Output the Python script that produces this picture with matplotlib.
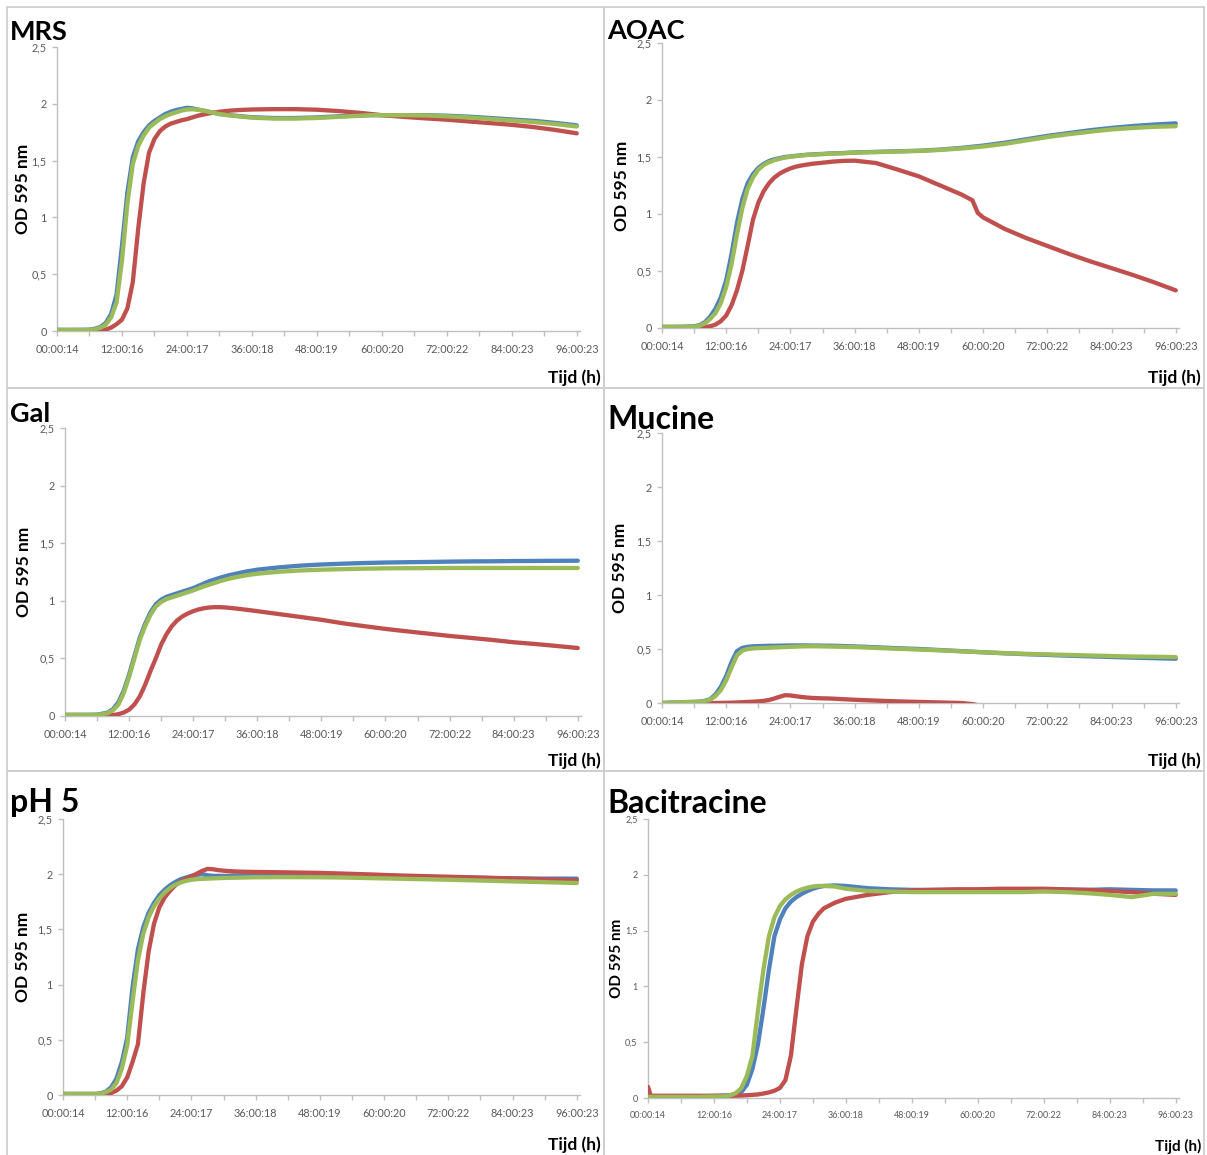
import matplotlib
matplotlib.use("Agg")
import matplotlib.pyplot as plt
from matplotlib.patches import Rectangle
from matplotlib.ticker import FixedLocator, FuncFormatter

plt.rcParams['font.family'] = ['Lato', 'DejaVu Sans']

# sampling times (h) shared by all growth curves
HOURS = [0, 0.5, 2, 4, 6,
         7, 8, 9, 10, 11, 12, 13, 14, 15, 16,
         17, 18, 19, 20, 21, 22, 23, 24, 25, 26,
         27, 28, 29, 30, 31, 32, 34, 36, 40, 44,
         48, 52, 56, 58, 59, 60, 64, 68, 72, 76,
         80, 84, 88, 92, 96]

TICK_HOURS = [0, 12, 24, 36, 48, 60, 72, 84, 96]
TICK_LABELS = ["00:00:14", "12:00:16", "24:00:17", "36:00:18", "48:00:19",
               "60:00:20", "72:00:22", "84:00:23", "96:00:23"]
Y_TICKS = [0, 0.5, 1, 1.5, 2, 2.5]

# OD 595 nm per medium, three strains (blue / red / green)
MRS_BLUE = [0.01, 0.01, 0.01, 0.01, 0.012,
            0.02, 0.035, 0.07, 0.15, 0.32, 0.75, 1.22, 1.53, 1.67, 1.75,
            1.81, 1.85, 1.88, 1.91, 1.93, 1.945, 1.955, 1.965, 1.96, 1.95,
            1.94, 1.93, 1.92, 1.91, 1.905, 1.9, 1.89, 1.882, 1.875, 1.875,
            1.88, 1.89, 1.897, 1.9, 1.9, 1.9, 1.9, 1.9, 1.895, 1.887,
            1.875, 1.862, 1.85, 1.832, 1.81]
MRS_RED = [0, 0, 0, 0, 0.002,
           0.004, 0.007, 0.012, 0.03, 0.06, 0.1, 0.2, 0.43, 0.9, 1.3,
           1.57, 1.69, 1.76, 1.8, 1.825, 1.84, 1.855, 1.865, 1.88, 1.895,
           1.905, 1.915, 1.922, 1.93, 1.935, 1.94, 1.946, 1.95, 1.953, 1.953,
           1.948, 1.936, 1.92, 1.91, 1.905, 1.9, 1.885, 1.872, 1.86, 1.845,
           1.83, 1.815, 1.795, 1.77, 1.74]
MRS_GREEN = [0.01, 0.01, 0.01, 0.01, 0.01,
             0.015, 0.028, 0.055, 0.12, 0.25, 0.62, 1.12, 1.47, 1.63, 1.72,
             1.79, 1.83, 1.865, 1.89, 1.91, 1.925, 1.94, 1.95, 1.952, 1.948,
             1.94, 1.93, 1.92, 1.91, 1.903, 1.897, 1.887, 1.878, 1.87, 1.87,
             1.875, 1.885, 1.895, 1.9, 1.9, 1.9, 1.9, 1.898, 1.89, 1.88,
             1.867, 1.853, 1.84, 1.822, 1.8]

AOAC_BLUE = [0.01, 0.01, 0.01, 0.012, 0.015,
             0.025, 0.05, 0.1, 0.17, 0.27, 0.42, 0.65, 0.92, 1.13, 1.27,
             1.35, 1.405, 1.44, 1.465, 1.48, 1.49, 1.5, 1.505, 1.51, 1.515,
             1.52, 1.522, 1.525, 1.527, 1.53, 1.532, 1.535, 1.54, 1.545, 1.55,
             1.555, 1.565, 1.58, 1.59, 1.595, 1.6, 1.625, 1.655, 1.685, 1.71,
             1.735, 1.755, 1.772, 1.785, 1.795]
AOAC_RED = [0, 0, 0, 0, 0,
            0.003, 0.008, 0.015, 0.03, 0.06, 0.11, 0.2, 0.33, 0.5, 0.72,
            0.95, 1.1, 1.2, 1.27, 1.32, 1.355, 1.38, 1.4, 1.415, 1.425,
            1.433, 1.44, 1.445, 1.45, 1.455, 1.46, 1.466, 1.468, 1.447, 1.39,
            1.33, 1.25, 1.17, 1.12, 1.01, 0.97, 0.87, 0.79, 0.72, 0.65,
            0.585, 0.525, 0.465, 0.4, 0.33]
AOAC_GREEN = [0.01, 0.01, 0.01, 0.01, 0.012,
              0.02, 0.04, 0.08, 0.13, 0.22, 0.36, 0.56, 0.82, 1.05, 1.22,
              1.32, 1.39, 1.43, 1.455, 1.472, 1.485, 1.495, 1.502, 1.508, 1.513,
              1.517, 1.52, 1.523, 1.525, 1.528, 1.53, 1.533, 1.538, 1.543, 1.548,
              1.553, 1.562, 1.575, 1.583, 1.588, 1.592, 1.615, 1.645, 1.675, 1.7,
              1.722, 1.742, 1.755, 1.765, 1.77]

GAL_BLUE = [0.01, 0.01, 0.01, 0.01, 0.012,
            0.02, 0.03, 0.06, 0.12, 0.22, 0.36, 0.52, 0.68, 0.8, 0.9,
            0.97, 1.01, 1.035, 1.05, 1.065, 1.08, 1.095, 1.11, 1.13, 1.15,
            1.17, 1.185, 1.2, 1.213, 1.225, 1.235, 1.255, 1.27, 1.29, 1.305,
            1.315, 1.322, 1.328, 1.33, 1.331, 1.332, 1.335, 1.337, 1.34, 1.342,
            1.343, 1.345, 1.346, 1.347, 1.348]
GAL_RED = [0, 0, 0, 0, 0,
           0.002, 0.004, 0.008, 0.016, 0.03, 0.055, 0.1, 0.17, 0.27, 0.39,
           0.5, 0.62, 0.71, 0.78, 0.83, 0.865, 0.89, 0.91, 0.925, 0.935,
           0.942, 0.945, 0.945, 0.942, 0.938, 0.933, 0.922, 0.91, 0.885, 0.86,
           0.835, 0.805, 0.78, 0.768, 0.762, 0.756, 0.735, 0.715, 0.695, 0.678,
           0.66, 0.64, 0.625, 0.608, 0.59]
GAL_GREEN = [0.01, 0.01, 0.01, 0.01, 0.01,
             0.015, 0.025, 0.05, 0.1, 0.2, 0.34, 0.5, 0.66, 0.78, 0.88,
             0.95, 0.99, 1.015, 1.03, 1.045, 1.06, 1.075, 1.09, 1.108, 1.125,
             1.14, 1.155, 1.17, 1.183, 1.195, 1.205, 1.222, 1.235, 1.252, 1.263,
             1.27, 1.275, 1.279, 1.28, 1.281, 1.282, 1.283, 1.284, 1.285, 1.285,
             1.285, 1.285, 1.285, 1.285, 1.285]

MUC_BLUE = [0, 0, 0.004, 0.008, 0.01,
            0.013, 0.02, 0.035, 0.08, 0.15, 0.25, 0.38, 0.48, 0.51, 0.52,
            0.525, 0.527, 0.528, 0.53, 0.53, 0.531, 0.532, 0.533, 0.533, 0.533,
            0.533, 0.532, 0.532, 0.531, 0.53, 0.53, 0.527, 0.524, 0.516, 0.507,
            0.5, 0.49, 0.48, 0.475, 0.472, 0.47, 0.46, 0.452, 0.445, 0.438,
            0.432, 0.426, 0.42, 0.415, 0.41]
# the red strain drops just below the blank after ~58 h
MUC_RED = [0, 0, 0, 0, 0,
           0, 0, 0, 0, 0.001, 0.002, 0.003, 0.005, 0.007, 0.01,
           0.012, 0.015, 0.02, 0.028, 0.042, 0.058, 0.072, 0.07, 0.063, 0.056,
           0.051, 0.047, 0.045, 0.043, 0.042, 0.04, 0.035, 0.03, 0.022, 0.015,
           0.01, 0.005, 0.0, -0.01, -0.02, -0.02, -0.02, -0.02, -0.02, -0.02,
           -0.02, -0.02, -0.02, -0.02, -0.02]
MUC_GREEN = [0, 0, 0.004, 0.008, 0.01,
             0.012, 0.018, 0.03, 0.065, 0.12, 0.21, 0.33, 0.44, 0.485, 0.5,
             0.505, 0.508, 0.51, 0.512, 0.514, 0.516, 0.518, 0.52, 0.522, 0.524,
             0.525, 0.525, 0.525, 0.524, 0.523, 0.522, 0.52, 0.518, 0.51, 0.502,
             0.495, 0.487, 0.478, 0.474, 0.472, 0.47, 0.462, 0.455, 0.45, 0.445,
             0.44, 0.435, 0.43, 0.428, 0.425]

PH5_BLUE = [0.01, 0.01, 0.01, 0.01, 0.01,
            0.015, 0.03, 0.07, 0.15, 0.3, 0.52, 0.98, 1.32, 1.52, 1.65,
            1.74, 1.81, 1.86, 1.9, 1.93, 1.955, 1.97, 1.985, 1.995, 2.0,
            1.99, 1.985, 1.985, 1.985, 1.985, 1.988, 1.99, 1.99, 1.99, 1.99,
            1.99, 1.985, 1.982, 1.98, 1.98, 1.98, 1.977, 1.975, 1.972, 1.968,
            1.965, 1.962, 1.96, 1.96, 1.96]
PH5_RED = [0, 0, 0, 0, 0,
           0.004, 0.008, 0.018, 0.04, 0.08, 0.16, 0.3, 0.46, 0.92, 1.3,
           1.55, 1.7, 1.79, 1.85, 1.9, 1.935, 1.96, 1.98, 2.005, 2.03,
           2.048, 2.045, 2.037, 2.032, 2.028, 2.025, 2.022, 2.02, 2.018, 2.015,
           2.012, 2.006, 2.0, 1.997, 1.995, 1.993, 1.987, 1.982, 1.977, 1.972,
           1.967, 1.962, 1.957, 1.951, 1.945]
PH5_GREEN = [0.01, 0.01, 0.01, 0.01, 0.01,
             0.012, 0.025, 0.05, 0.11, 0.24, 0.45, 0.85, 1.22, 1.46, 1.61,
             1.71, 1.78, 1.835, 1.875, 1.905, 1.925, 1.94, 1.95, 1.955, 1.958,
             1.96, 1.962, 1.964, 1.966, 1.967, 1.968, 1.97, 1.972, 1.973, 1.973,
             1.972, 1.97, 1.966, 1.964, 1.963, 1.962, 1.958, 1.954, 1.95, 1.945,
             1.94, 1.935, 1.93, 1.925, 1.92]

BAC_BLUE = [0.012, 0.012, 0.012, 0.012, 0.013,
            0.013, 0.014, 0.015, 0.016, 0.017, 0.018, 0.02, 0.022, 0.025, 0.032,
            0.055, 0.12, 0.26, 0.48, 0.8, 1.15, 1.45, 1.6, 1.7, 1.76,
            1.8, 1.83, 1.855, 1.875, 1.89, 1.9, 1.905, 1.9, 1.88, 1.87,
            1.865, 1.865, 1.865, 1.865, 1.865, 1.865, 1.865, 1.865, 1.865, 1.865,
            1.865, 1.87, 1.865, 1.86, 1.86]
BAC_RED = [0.1, 0.02, 0.02, 0.02, 0.02,
           0.02, 0.02, 0.02, 0.02, 0.02, 0.02, 0.02, 0.02, 0.02, 0.021,
           0.022, 0.025, 0.028, 0.032, 0.04, 0.05, 0.065, 0.09, 0.16, 0.38,
           0.8, 1.2, 1.45, 1.58, 1.65, 1.7, 1.75, 1.785, 1.82, 1.845,
           1.86, 1.865, 1.87, 1.87, 1.87, 1.87, 1.875, 1.875, 1.875, 1.87,
           1.865, 1.855, 1.845, 1.83, 1.82]
BAC_GREEN = [0.01, 0.01, 0.01, 0.01, 0.01,
             0.01, 0.01, 0.01, 0.011, 0.012, 0.013, 0.014, 0.015, 0.025, 0.045,
             0.09, 0.2, 0.38, 0.78, 1.15, 1.45, 1.62, 1.72, 1.78, 1.82,
             1.85, 1.87, 1.885, 1.895, 1.9, 1.9, 1.895, 1.875, 1.855, 1.85,
             1.845, 1.845, 1.845, 1.845, 1.845, 1.845, 1.845, 1.845, 1.85, 1.845,
             1.835, 1.82, 1.8, 1.83, 1.83]

BLUE, RED, GREEN = '#4f81bd', '#c0504d', '#9bbb59'
GRID_GREY = '#bfbfbf'
LABEL_GREY = '#595959'

W, H = 1207, 1155
fig = plt.figure(figsize=(W / 100, H / 100), dpi=100)


def fx(x):
    return x / W


def fy(y):
    return 1 - y / H


def panel(name, series, box, ax_px, title_pt, title_base, ylab_x,
          tijd_base, small=False):
    # frame around the slide panel
    x0, y0, x1, y1 = box
    fig.add_artist(Rectangle((fx(x0), fy(y1)), (x1 - x0) / W, (y1 - y0) / H,
                             transform=fig.transFigure, fill=False,
                             ec='#cfcfcf', lw=1.3))

    left, right, top, bottom = ax_px
    ax = fig.add_axes([fx(left), fy(bottom), (right - left) / W, (bottom - top) / H])
    for vals, col in series:
        ax.plot(HOURS, vals, color=col, lw=3.1, solid_capstyle='round')

    ax.set_xlim(0, 96.6)
    ax.set_ylim(0, 2.5)
    for side in ('top', 'right'):
        ax.spines[side].set_visible(False)
    for side in ('left', 'bottom'):
        ax.spines[side].set_color(GRID_GREY)
        ax.spines[side].set_linewidth(1.0)
        ax.spines[side].set_zorder(0.5)
    ax.set_facecolor('none')

    tick_size = 6.5 if small else 7.8
    ax.xaxis.set_major_locator(FixedLocator(TICK_HOURS))
    ax.xaxis.set_minor_locator(FixedLocator([h + 6 for h in TICK_HOURS[:-1]]))
    ax.set_xticklabels(TICK_LABELS)
    ax.yaxis.set_major_locator(FixedLocator(Y_TICKS))
    ax.yaxis.set_major_formatter(
        FuncFormatter(lambda v, p: f"{v:g}".replace('.', ',')))
    ax.tick_params(which='both', color=GRID_GREY, length=3.5, width=1,
                   labelcolor=LABEL_GREY, labelsize=tick_size)
    ax.tick_params(axis='x', which='both', pad=6)
    ax.tick_params(axis='y', pad=4)

    fig.text(fx(x0 + 3), fy(title_base), name, fontsize=title_pt,
             fontweight='bold', ha='left', va='baseline')
    fig.text(fx(ylab_x), fy((top + bottom) / 2), 'OD 595 nm',
             fontsize=11 if small else 12.5, fontweight='bold',
             rotation=90, ha='center', va='center')
    fig.text(fx(x1 - 3), fy(tijd_base), 'Tijd (h)',
             fontsize=11 if small else 12.5, fontweight='bold',
             ha='right', va='baseline')
    return ax


panel('MRS', [(MRS_BLUE, BLUE), (MRS_RED, RED), (MRS_GREEN, GREEN)],
      (7, 7, 604, 388), (57, 580, 47, 331), 19.5, 40, 23, 383)
panel('AOAC', [(AOAC_BLUE, BLUE), (AOAC_RED, RED), (AOAC_GREEN, GREEN)],
      (604, 7, 1204, 388), (662, 1179, 43, 328), 19.5, 39, 622, 383)
panel('Gal', [(GAL_BLUE, BLUE), (GAL_RED, RED), (GAL_GREEN, GREEN)],
      (7, 388, 604, 771), (65, 581, 428, 716), 19.5, 422, 24, 766)
panel('Mucine', [(MUC_BLUE, BLUE), (MUC_RED, RED), (MUC_GREEN, GREEN)],
      (604, 388, 1204, 771), (662, 1179, 433, 703), 23, 429, 620, 766)
panel('pH 5', [(PH5_BLUE, BLUE), (PH5_RED, RED), (PH5_GREEN, GREEN)],
      (7, 771, 604, 1157), (63, 580, 819, 1095), 23, 812, 23, 1150)
panel('Bacitracine', [(BAC_BLUE, BLUE), (BAC_RED, RED), (BAC_GREEN, GREEN)],
      (604, 771, 1204, 1157), (648, 1179, 819, 1098), 23, 813, 617, 1151,
      small=True)

fig.savefig('out.png', dpi=100, facecolor='white')
